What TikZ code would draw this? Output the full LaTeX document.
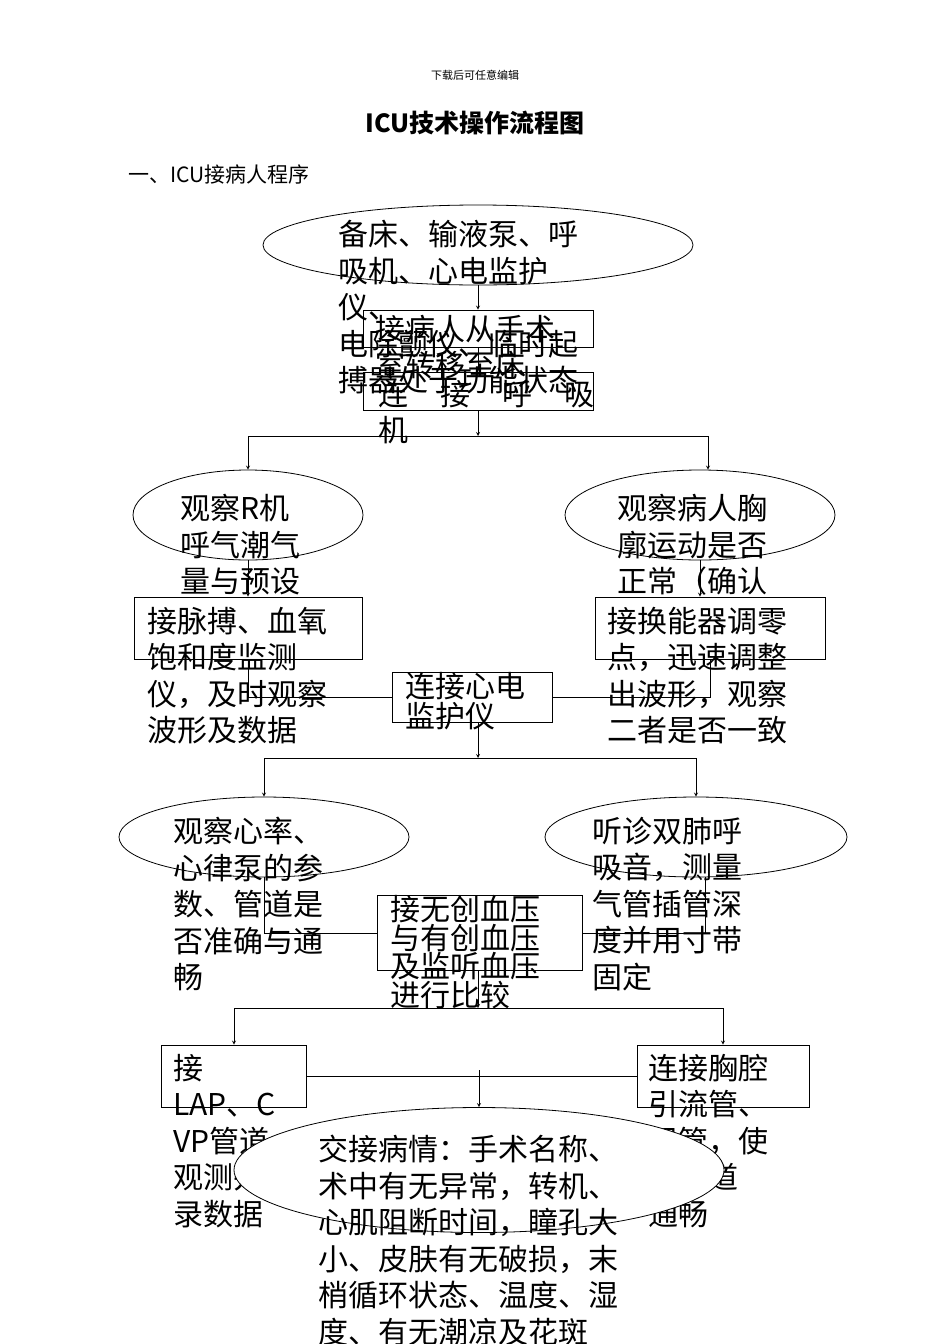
\documentclass[tikz,border=0pt]{standalone}
\usepackage{fontspec}
\setmainfont{Noto Sans CJK SC}
\usetikzlibrary{shapes.geometric,positioning}

\tikzset{
  blk/.style={draw,thick,minimum width=#1},
  oval/.style={draw,thick,ellipse,fill=white},
  txt/.style={anchor=north west,align=left,inner sep=0pt,font=\fontsize{30}{36.5}\selectfont},
  lnk/.style={thick,-stealth},
}

\begin{document}
\begin{tikzpicture}[x=1pt,y=-1pt]
        \useasboundingbox (0,0) rectangle (950,1344);
        \node (h_0) at (475,75) {\fontsize{11}{11}\selectfont 下载后可任意编辑};
        \node (h_1) at (475,123) {\fontsize{25}{25}\selectfont\bfseries ICU技术操作流程图};
        \node[anchor=west] (h_2) at (125,174) {\fontsize{21}{21}\selectfont 一、ICU接病人程序};

        % shapes
        \node[oval,fill=none,minimum width=430,minimum height=80] (e_0) at (478,245) {};
        \node[draw,thick,minimum width=230,minimum height=37] (b_1) at (478,328.5) {};
        \node[draw,thick,minimum width=230,minimum height=38] (b_2) at (478,391) {};
        \coordinate (s_1) at (478,436);
        \node[oval,fill=none,minimum width=230,minimum height=90] (e_l1) at (248,515) {};
        \node[oval,fill=none,minimum width=270,minimum height=90] (e_r1) at (700,515) {};
        \node[draw,thick,minimum width=228,minimum height=62] (b_l1) at (248,628) {};
        \node[draw,thick,minimum width=230,minimum height=62] (b_r1) at (710,628) {};
        \node[draw,thick,minimum width=160,minimum height=50] (c_1) at (472,697) {};
        \coordinate (s_2) at (478,758);
        \node[oval,fill=none,minimum width=290,minimum height=80] (e_l2) at (264,837) {};
        \node[oval,fill=none,minimum width=302,minimum height=80] (e_r2) at (696,837) {};
        \node[draw,thick,minimum width=205,minimum height=75] (c_2) at (480,933) {};
        \coordinate (s_3) at (478,1008);
        \node[draw,thick,minimum width=145,minimum height=62] (b_l3) at (234,1076) {};
        \node[draw,thick,minimum width=172,minimum height=62] (b_r3) at (723,1076) {};

        % connectors
        \draw[lnk] (e_0.south) -- (b_1.north);
        \draw[lnk] (b_1.south) -- (b_2.north);
        \draw[lnk] (b_2.south) -- (s_1);
        \draw[lnk] (s_1) -| (e_l1.north);
        \draw[lnk] (s_1) -| (e_r1.north -| 708,0);
        \draw[lnk] (e_l1.south) -- (b_l1.north -| e_l1.south);
        \draw[lnk] (e_r1.south) -- (b_r1.north -| e_r1.south);
        \draw[thick] (b_l1.south) |- (c_1.west);
        \draw[thick] (b_r1.south) |- (c_1.east);
        \draw[lnk] (c_1.south -| s_2) -- (s_2);
        \draw[lnk] (s_2) -| (e_l2.north);
        \draw[lnk] (s_2) -| (e_r2.north);
        \draw[thick] (e_l2.south) |- (c_2.west);
        \draw[thick] (e_r2.south -| 705,0) |- (c_2.east);
        \draw[lnk] (c_2.south -| s_3) -- (s_3);
        \draw[lnk] (s_3) -| (b_l3.north);
        \draw[lnk] (s_3) -| (b_r3.north);
        \draw[thick] (b_l3.east) -- (b_r3.west);
        \coordinate (s_4) at (479,1070);

        % texts
        \node[txt] (t_0) at (338,220) {备床、输液泵、呼\\吸机、心电监护\\仪、\\电除颤仪、临时起\\搏器处于功能状态};
        \node[txt] (t_1) at (375,315) {接病人从手术\\室转移至床};
        \node[txt] (t_2) at (378,380) {连\hspace{32pt}接\hspace{32pt}呼\hspace{32pt}吸\\机};
        \node[txt] (t_l1) at (180,494) {观察R机\\呼气潮气\\量与预设};
        \node[txt] (t_r1) at (617,494) {观察病人胸\\廓运动是否\\正常（确认};
        \node[txt] (t_l2) at (147,607) {接脉搏、血氧\\饱和度监测\\仪，及时观察\\波形及数据};
        \node[txt] (t_r2) at (607,607) {接换能器调零\\点，迅速调整\\出波形，观察\\二者是否一致};
        \node[txt,font=\fontsize{30}{30}\selectfont] (t_c1) at (405,672) {连接心电\\监护仪};
        \node[txt] (t_l3) at (173,817) {观察心率、\\心律泵的参\\数、管道是\\否准确与通\\畅};
        \node[txt] (t_r3) at (592,817) {听诊双肺呼\\吸音，测量\\气管插管深\\度并用寸带\\固定};
        \node[txt,font=\fontsize{30}{25}\selectfont] (t_c2) at (390,895) {接无创血压\\与有创血压\\及监听血压\\进行比较};
        \node[txt] (t_l4) at (173,1054) {接\\LAP、C\\VP管道，\\观测并记\\录数据};
        \node[txt] (t_r4) at (648,1054) {连接胸腔\\引流管、\\尿管，使\\各管道\\通畅};
        \node[oval,minimum width=490,minimum height=125] (e_3) at (479,1170) {};
        \draw[lnk] (s_4) -- (e_3.north);
        \node[txt] (t_3) at (318,1135) {交接病情：手术名称、\\术中有无异常，转机、\\心肌阻断时间，瞳孔大\\小、皮肤有无破损，末\\梢循环状态、温度、湿\\度、有无潮凉及花斑};
\end{tikzpicture}
\end{document}
